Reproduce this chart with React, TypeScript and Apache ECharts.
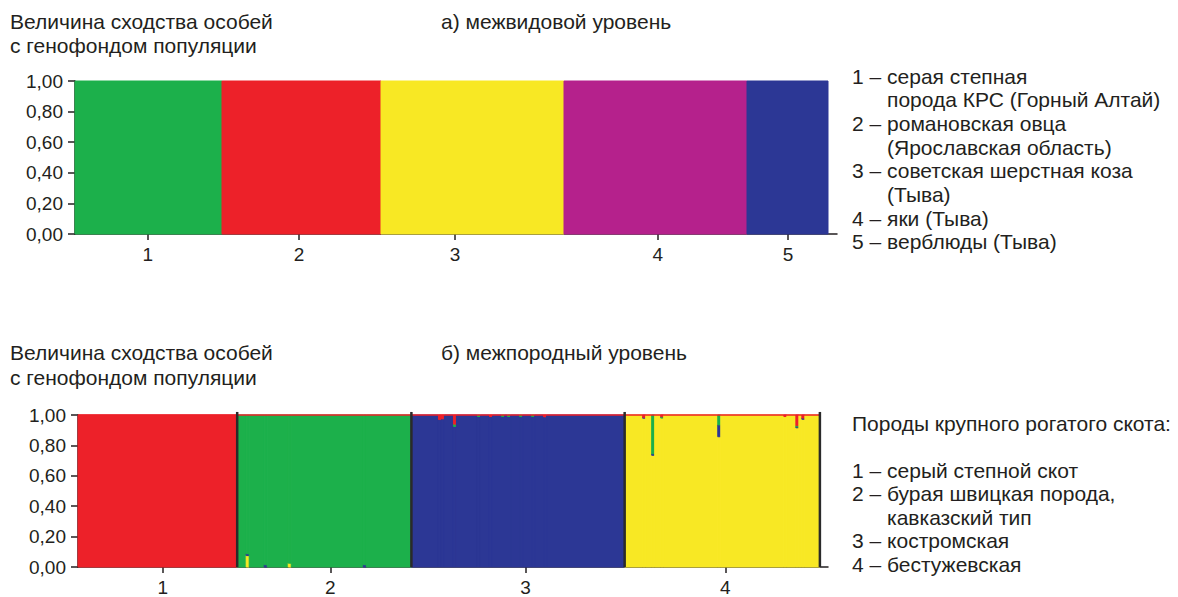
import React, { useEffect, useRef } from "react";
import * as echarts from "echarts";

// ---------- data ----------
// (a) interspecies level
const speciesColors = ["#1cb04b", "#ed2129", "#f8e824", "#b5218c", "#2c3795"];
const speciesSizes = [49, 53, 61, 61, 27];
const speciesTickLabels = ["1", "2", "3", "4", "5"];
const speciesTickPositions = [24.3, 74.7, 126.7, 194.3, 237.7];
const speciesAxisMax = 254;

// (b) inter-breed level; clusters: red, green, blue, yellow
const clusterColors = ["#ed2129", "#1cb04b", "#2c3795", "#f8e824"];
const clusterStackOrder = [3, 2, 1, 0]; // bottom to top
const breedSizes = [53, 58, 71, 65];
const breedMainCluster = [0, 1, 2, 3];
const breedTickLabels = ["1", "2", "3", "4"];
const breedTickPositions = [28.2, 84, 149, 215.5];
const breedAxisMax = 249.7;
// [individual index, red, green, blue, yellow] – shares of non-native clusters
const breedAdmixture: number[][] = [
  [56, 0, 0, 0.012, 0.075],
  [62, 0, 0, 0.015, 0],
  [70, 0, 0, 0, 0.025],
  [95, 0, 0, 0.015, 0],
  [120, 0.03, 0, 0, 0],
  [121, 0.025, 0, 0, 0],
  [125, 0.06, 0.015, 0, 0],
  [133, 0, 0.01, 0, 0],
  [137, 0.01, 0, 0, 0],
  [141, 0, 0.01, 0, 0],
  [143, 0, 0.01, 0, 0],
  [147, 0, 0.01, 0, 0],
  [151, 0, 0.01, 0, 0],
  [155, 0.012, 0, 0, 0],
  [188, 0.015, 0, 0.006, 0],
  [191, 0, 0.255, 0.01, 0],
  [194, 0.012, 0.008, 0, 0],
  [213, 0, 0.065, 0.078, 0],
  [235, 0.01, 0, 0, 0],
  [239, 0.07, 0.008, 0.006, 0],
  [241, 0.02, 0, 0.008, 0],
];

const yTicks = 0.2;

const titleLines = ["Величина сходства особей", "с генофондом популяции"];
const titleA = "а) межвидовой уровень";
const titleB = "б) межпородный уровень";
const legendA = [
  "1 – серая степная",
  "      порода КРС (Горный Алтай)",
  "2 – романовская овца",
  "      (Ярославская область)",
  "3 – советская шерстная коза",
  "      (Тыва)",
  "4 – яки (Тыва)",
  "5 – верблюды (Тыва)",
];
const legendB = [
  "Породы крупного рогатого скота:",
  "",
  "1 – серый степной скот",
  "2 – бурая швицкая порода,",
  "      кавказский тип",
  "3 – костромская",
  "4 – бестужевская",
];

// ---------- build ----------
const FONT = "'Liberation Sans', Arial, Helvetica, sans-serif";
const INK = "#231f20";

// push a rect, merging it with the previous one of the same band if adjacent
function pushMerged(out: number[][], open: Record<string, number[]>, r: number[]) {
  const key = `${r[2]}|${r[3]}|${r[4]}`;
  const last = open[key];
  if (last && last[1] === r[0]) {
    last[1] = r[1];
  } else {
    const copy = r.slice();
    out.push(copy);
    open[key] = copy;
  }
}

function buildSpeciesRects() {
  const out: number[][] = [];
  const open: Record<string, number[]> = {};
  let x = 0;
  speciesSizes.forEach((n, g) => {
    for (let i = 0; i < n; i++) {
      pushMerged(out, open, [x, x + 1, 0, 1, g]);
      x++;
    }
  });
  return out;
}

function buildBreedRects() {
  const out: number[][] = [];
  const open: Record<string, number[]> = {};
  const admix: Record<number, number[]> = {};
  breedAdmixture.forEach((r) => (admix[r[0]] = r.slice(1)));
  let x = 0;
  breedSizes.forEach((n, g) => {
    for (let i = 0; i < n; i++) {
      const shares = [0, 0, 0, 0];
      const a = admix[x];
      if (a) a.forEach((v, k) => (shares[k] = v));
      const other = shares.reduce((s, v) => s + v, 0);
      shares[breedMainCluster[g]] = 1 - other;
      let y = 0;
      clusterStackOrder.forEach((c) => {
        if (shares[c] > 0) {
          pushMerged(out, open, [x, x + 1, +y.toFixed(4), +(y + shares[c]).toFixed(4), c]);
          y += shares[c];
        }
      });
      x++;
    }
  });
  return out;
}

function buildBoundaries() {
  const out: number[][] = [];
  let x = 0;
  breedSizes.forEach((n) => {
    x += n;
    out.push([x]);
  });
  return out;
}

const breedTotal = breedSizes.reduce((s, v) => s + v, 0);

const yAxisCfg = (gridIndex: number) => ({
  type: "value",
  gridIndex,
  min: 0,
  max: 1,
  interval: yTicks,
  axisLine: { show: true, lineStyle: { color: INK, width: 1.5 } },
  axisTick: { show: true, length: 7, lineStyle: { color: INK, width: 1.5 } },
  axisLabel: {
    margin: 12,
    fontSize: 19,
    color: INK,
    fontFamily: FONT,
    formatter: (v: number) => v.toFixed(2).replace(".", ","),
  },
  splitLine: { show: false },
});

const xAxisCfg = (gridIndex: number, max: number, positions: number[], labels: string[]) => ({
  type: "value",
  gridIndex,
  min: 0,
  max,
  axisLine: { show: true, onZero: false, lineStyle: { color: INK, width: 1.5 } },
  axisTick: { show: true, length: 6, customValues: positions, lineStyle: { color: INK, width: 1.5 } },
  axisLabel: {
    customValues: positions,
    margin: 11,
    fontSize: 19,
    color: INK,
    fontFamily: FONT,
    formatter: (v: number) => {
      let best = 0;
      positions.forEach((p, i) => {
        if (Math.abs(p - v) < Math.abs(positions[best] - v)) best = i;
      });
      return labels[best];
    },
  },
  splitLine: { show: false },
});

const rectRenderer = (colors: string[]) => (params: any, api: any) => {
  const p0 = api.coord([api.value(0), api.value(3)]);
  const p1 = api.coord([api.value(1), api.value(2)]);
  const c = colors[api.value(4)];
  return {
    type: "rect",
    shape: { x: p0[0], y: p0[1], width: p1[0] - p0[0], height: p1[1] - p0[1] },
    style: { fill: c, stroke: c, lineWidth: 1 },
  };
};

const textEl = (text: string, x: number, y: number) => ({
  type: "text",
  x,
  y,
  style: {
    text,
    fill: INK,
    font: `21px ${FONT}`,
    textVerticalAlign: "middle",
  },
});

function buildOption() {
  const graphics: any[] = [];
  graphics.push(textEl(titleLines[0], 10, 21));
  graphics.push(textEl(titleLines[1], 10, 45));
  graphics.push(textEl(titleA, 441, 21));
  graphics.push(textEl(titleLines[0], 10, 352));
  graphics.push(textEl(titleLines[1], 10, 377));
  graphics.push(textEl(titleB, 441, 352));
  legendA.forEach((t, i) => graphics.push(textEl(t, 852, 76 + i * 23.7)));
  legendB.forEach((t, i) => t && graphics.push(textEl(t, 852, 423 + i * 23.5)));

  return {
    animation: false,
    backgroundColor: "#ffffff",
    grid: [
      { left: 75, top: 81, width: 762, height: 153, containLabel: false },
      { left: 78, top: 415, width: 750, height: 155, containLabel: false },
    ],
    xAxis: [
      xAxisCfg(0, speciesAxisMax, speciesTickPositions, speciesTickLabels),
      xAxisCfg(1, breedAxisMax, breedTickPositions, breedTickLabels),
    ],
    yAxis: [yAxisCfg(0), yAxisCfg(1)],
    series: [
      {
        type: "custom",
        xAxisIndex: 0,
        yAxisIndex: 0,
        renderItem: rectRenderer(speciesColors),
        encode: { x: [0, 1], y: [2, 3] },
        data: buildSpeciesRects(),
        silent: true,
      },
      {
        type: "custom",
        xAxisIndex: 1,
        yAxisIndex: 1,
        renderItem: rectRenderer(clusterColors),
        encode: { x: [0, 1], y: [2, 3] },
        data: buildBreedRects(),
        silent: true,
        markLine: {
          silent: true,
          symbol: "none",
          label: { show: false },
          lineStyle: { color: "#ed2129", width: 1.5, type: "solid" },
          data: [[{ coord: [0, 1] }, { coord: [breedTotal, 1] }]],
        },
      },
      {
        type: "custom",
        xAxisIndex: 1,
        yAxisIndex: 1,
        z: 5,
        renderItem: (params: any, api: any) => {
          const top = api.coord([api.value(0), 1.02]);
          const bot = api.coord([api.value(0), 0]);
          return {
            type: "line",
            shape: { x1: top[0], y1: top[1], x2: bot[0], y2: bot[1] },
            style: { stroke: "#2a2a2a", lineWidth: 2.5 },
          };
        },
        encode: { x: 0 },
        data: buildBoundaries(),
        silent: true,
      },
    ],
    graphic: graphics,
  };
}

export default function App() {
  const ref = useRef<HTMLDivElement>(null);
  useEffect(() => {
    if (!ref.current) return;
    const chart = echarts.init(ref.current, null, { renderer: "svg" });
    chart.setOption(buildOption() as any);
    return () => chart.dispose();
  }, []);
  return (
    <div
      ref={ref}
      style={{ position: "absolute", left: 0, top: 0, width: 1178, height: 597, background: "#fff" }}
    />
  );
}
